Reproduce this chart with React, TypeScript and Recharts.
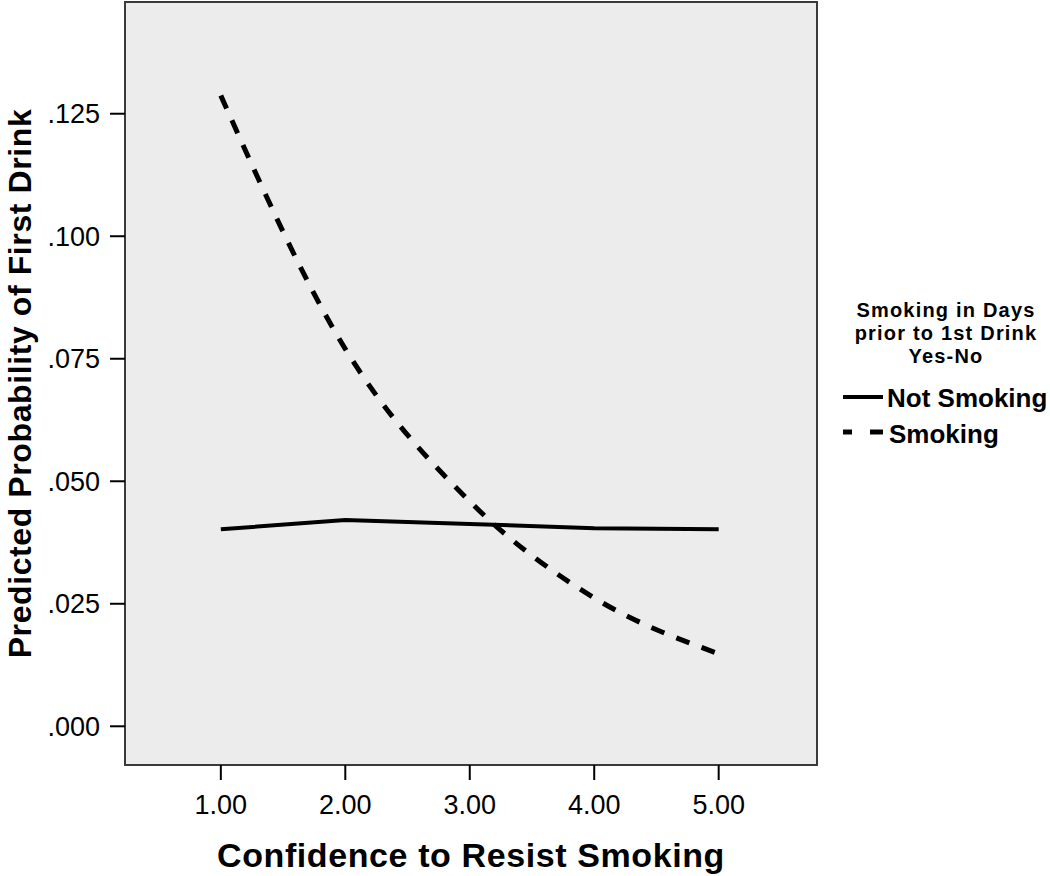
import React from 'react';
import { LineChart, Line, XAxis, YAxis, ReferenceArea, Label } from 'recharts';

const confidence = [1, 2, 3, 4, 5];
const notSmoking = [0.0402, 0.0421, 0.0413, 0.0404, 0.0402];
const smoking = [0.1287, 0.077, 0.0459, 0.0262, 0.0148];
const xTicks = [1, 2, 3, 4, 5];
const yTicks = [0, 0.025, 0.05, 0.075, 0.1, 0.125];
const xDomain: [number, number] = [0.23, 5.79];
const yDomain: [number, number] = [-0.0079, 0.1478];
const legendTitle = ['Smoking in Days', 'prior to 1st Drink', 'Yes-No'];
const seriesNames = ['Not Smoking', 'Smoking'];
const xTitle = 'Confidence to Resist Smoking';
const yTitle = 'Predicted Probability of First Drink';

const data = confidence.map((c, i) => ({ c, notSmoking: notSmoking[i], smoking: smoking[i] }));

const FONT = '"Liberation Sans", Arial, sans-serif';
const fmtY = (v: number) => v.toFixed(3).replace(/^0/, '');
const fmtX = (v: number) => v.toFixed(2);

const YTitle = (props: any) => {
  const vb = props.viewBox || {};
  const cy = vb.y + vb.height / 2;
  return (
    <text
      x={0}
      y={0}
      transform={`translate(31, ${cy}) rotate(-90)`}
      textAnchor="middle"
      fontFamily={FONT}
      fontWeight="bold"
      fontSize={32}
      letterSpacing={0.6}
      fill="#000"
    >
      {yTitle}
    </text>
  );
};

export default function App() {
  return (
    <div style={{ position: 'absolute', left: 0, top: 0, width: 1050, height: 876, background: '#fff' }}>
      <LineChart
        width={1050}
        height={876}
        data={data}
        margin={{ top: 2, right: 233, bottom: 0, left: 0 }}
      >
        <ReferenceArea
          x1={xDomain[0]}
          x2={xDomain[1]}
          y1={yDomain[0]}
          y2={yDomain[1]}
          fill="#ececec"
          fillOpacity={1}
          stroke="#3a3a3a"
          strokeWidth={2}
          ifOverflow="visible"
        />
        <XAxis
          dataKey="c"
          type="number"
          domain={xDomain}
          ticks={xTicks}
          tickFormatter={fmtX}
          allowDataOverflow
          height={111}
          axisLine={false}
          tickSize={15}
          tickMargin={15}
          tickLine={{ stroke: '#000', strokeWidth: 2 }}
          tick={{ fill: '#000', fontSize: 27, fontFamily: FONT }}
        >
          <Label
            value={xTitle}
            position="insideBottom"
            offset={9}
            style={{ fontFamily: FONT, fontWeight: 'bold', fontSize: 34, letterSpacing: 0.6, fill: '#000' }}
          />
        </XAxis>
        <YAxis
          type="number"
          domain={yDomain}
          ticks={yTicks}
          tickFormatter={fmtY}
          allowDataOverflow
          width={125}
          axisLine={false}
          tickSize={15}
          tickMargin={10}
          tickLine={{ stroke: '#000', strokeWidth: 2 }}
          tick={{ fill: '#000', fontSize: 27, fontFamily: FONT }}
        >
          <Label content={<YTitle />} />
        </YAxis>
        <Line
          type="linear"
          dataKey="notSmoking"
          name={seriesNames[0]}
          stroke="#000"
          strokeWidth={4}
          dot={false}
          activeDot={false}
          isAnimationActive={false}
        />
        <Line
          type="monotone"
          dataKey="smoking"
          name={seriesNames[1]}
          stroke="#000"
          strokeWidth={5}
          strokeDasharray="14 13"
          dot={false}
          activeDot={false}
          isAnimationActive={false}
        />
      </LineChart>
      <svg
        width={1050}
        height={876}
        style={{ position: 'absolute', left: 0, top: 0, pointerEvents: 'none' }}
      >
        <g fontFamily={FONT} fontWeight="bold" fill="#000">
          {legendTitle.map((t, i) => (
            <text key={t} x={946} y={317 + i * 23} textAnchor="middle" fontSize={20} letterSpacing={1.2}>
              {t}
            </text>
          ))}
          <line x1={843} x2={883} y1={397} y2={397} stroke="#000" strokeWidth={4} />
          <text x={887} y={407} fontSize={26}>{seriesNames[0]}</text>
          <line x1={843} x2={883} y1={432} y2={432} stroke="#000" strokeWidth={5} strokeDasharray="9 18 13" />
          <text x={889} y={443} fontSize={26}>{seriesNames[1]}</text>
        </g>
      </svg>
    </div>
  );
}
